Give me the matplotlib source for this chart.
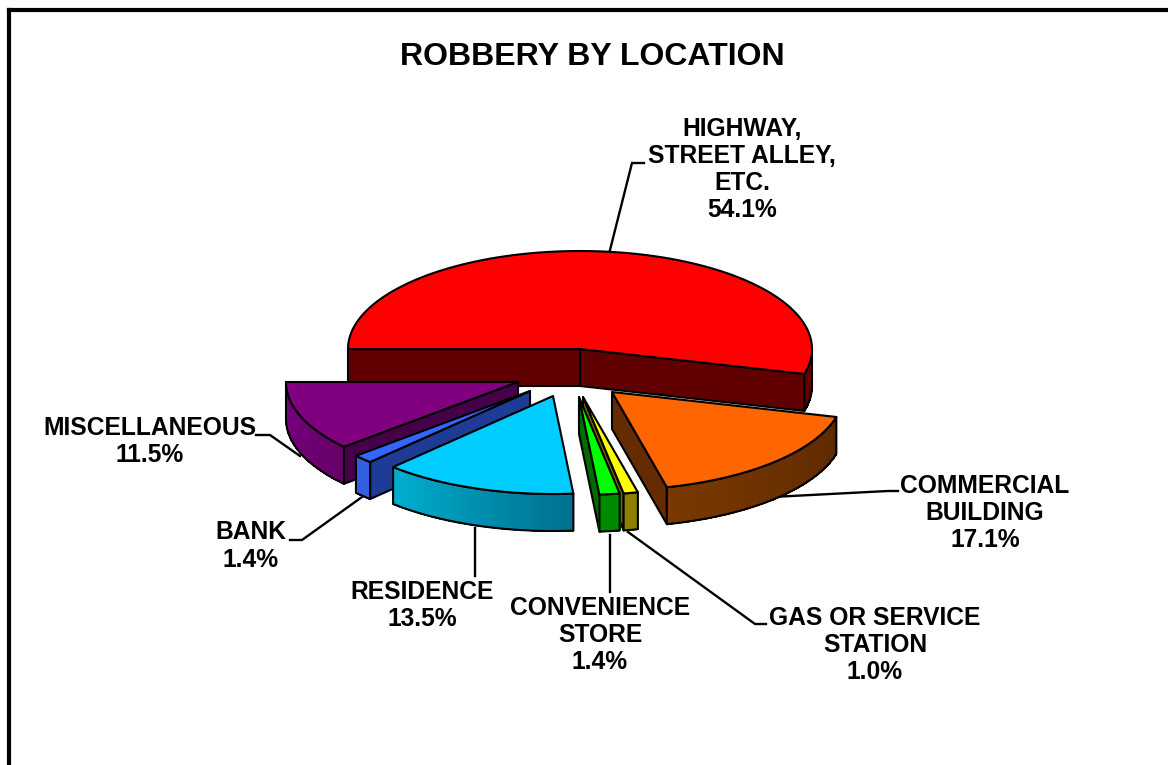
import numpy as np
import matplotlib
matplotlib.use("Agg")
import matplotlib.pyplot as plt
from matplotlib.patches import Polygon

# ---- data ----
title = "ROBBERY BY LOCATION"
categories = ["HIGHWAY,\nSTREET ALLEY,\nETC.", "COMMERCIAL\nBUILDING", "GAS OR SERVICE\nSTATION",
              "CONVENIENCE\nSTORE", "RESIDENCE", "BANK", "MISCELLANEOUS"]
percentages = [54.1, 17.1, 1.0, 1.4, 13.5, 1.4, 11.5]

# ---- styles ----
top_colors = ["#ff0000", "#ff6600", "#ffff00", "#00ff00", "#00ccff", "#3366ff", "#800080"]
cut_colors = ["#600000", "#642c00", "#706800", "#006c00", "#00789a", "#1e3c96", "#46004a"]
wall_left = ["#600000", "#7a3800", "#8a8200", "#008a00", "#00b0d0", "#3060e0", "#780080"]
wall_right = ["#640000", "#5e2a00", "#8a8200", "#008a00", "#007090", "#3060e0", "#660068"]

# ---- layout (pixels) ----
RX, RY, DEPTH = 232, 98, 37
CENTER = (573, 372)
explode = [(7, -23), (39, 20), (10, 25), (6, 25), (-20, 24), (-43, 19), (-55, 10)]
draw_order = [0, 6, 5, 4, 1, 2, 3]
label_pos = [(742, 169.5), (985, 513), (875, 645), (600, 635), (422, 605.5), (251, 546), (150, 441.5)]
leaders = [[(610, 250), (632, 163), (644, 163)],
           [(772, 497), (888, 491), (898, 491)],
           [(628, 532), (755, 624), (766, 624)],
           [(610, 535), (610, 592)],
           [(475, 528), (475, 576)],
           [(362, 497), (302, 540), (290, 540)],
           [(300, 456), (270, 435), (256, 435)]]

plt.rcParams["font.family"] = ["Liberation Sans", "DejaVu Sans"]
fig = plt.figure(figsize=(11.68, 7.65), dpi=100, facecolor="white")
ax = fig.add_axes([0, 0, 1, 1])
ax.set_xlim(0, 1168)
ax.set_ylim(765, 0)
ax.axis("off")

# frame
ax.plot([8.5, 8.5], [765, 9.5], color="black", lw=3.0, solid_capstyle="projecting", zorder=1)
ax.plot([8.5, 1168], [9.5, 9.5], color="black", lw=3.0, solid_capstyle="projecting", zorder=1)

# slice angles, clockwise starting at the left of the pie
shares = np.array(percentages) / sum(percentages) * 360.0
starts = 180.0 - np.concatenate(([0.0], np.cumsum(shares)[:-1]))
ends = starts - shares


def rim(cx, cy, deg):
    t = np.radians(deg)
    return cx + RX * np.cos(t), cy - RY * np.sin(t)


def mix(c1, c2, f):
    a = np.array(matplotlib.colors.to_rgb(c1))
    b = np.array(matplotlib.colors.to_rgb(c2))
    return tuple(a + (b - a) * f)


LW = 1.5
z = 2
for i in draw_order:
    cx = CENTER[0] + explode[i][0]
    cy = CENTER[1] + explode[i][1]
    a1, a2 = starts[i], ends[i]

    # cut faces facing the viewer
    for ang, normal in ((a1, a1 + 90), (a2, a2 - 90)):
        if np.sin(np.radians(normal)) < 0:
            px, py = rim(cx, cy, ang)
            ax.add_patch(Polygon([(cx, cy), (px, py), (px, py + DEPTH), (cx, cy + DEPTH)], closed=True,
                                 fc=cut_colors[i], ec="black", lw=LW, joinstyle="round", zorder=z))

    # outer wall (only its lower half is seen), shaded strip by strip
    lo, hi = max(a2, -180.0), min(a1, 0.0)
    if hi > lo:
        angs = np.linspace(lo, hi, 60)
        xs, ys = rim(cx, cy, angs)
        for k in range(len(angs) - 1):
            f = (k + 0.5) / (len(angs) - 1)
            col = mix(wall_left[i], wall_right[i], f)
            ax.add_patch(Polygon([(xs[k], ys[k]), (xs[k + 1], ys[k + 1]),
                                  (xs[k + 1], ys[k + 1] + DEPTH), (xs[k], ys[k] + DEPTH)],
                                 closed=True, fc=col, ec=col, lw=0.6, antialiased=False, zorder=z))
        outline = list(zip(xs, ys)) + list(zip(xs[::-1], ys[::-1] + DEPTH))
        ax.add_patch(Polygon(outline, closed=True, fill=False, ec="black", lw=LW, joinstyle="round", zorder=z))

    # top face
    angs = np.linspace(a1, a2, 160)
    xs, ys = rim(cx, cy, angs)
    ax.add_patch(Polygon([(cx, cy)] + list(zip(xs, ys)), closed=True, fc=top_colors[i],
                         ec="black", lw=LW, joinstyle="round", zorder=z))
    z += 1

# leaders and labels
for pts in leaders:
    ax.plot(*zip(*pts), color="black", lw=1.7, zorder=1.5, solid_joinstyle="miter")

for name, pct, (x, y) in zip(categories, percentages, label_pos):
    ax.text(x, y, f"{name}\n{pct:.1f}%", ha="center", va="center", fontsize=17.7, fontweight="bold",
            linespacing=1.16, color="black", zorder=60)

ax.text(592, 57, title, ha="center", va="center", fontsize=23, fontweight="bold", color="black", zorder=60)

fig.savefig("out.png", dpi=100)
